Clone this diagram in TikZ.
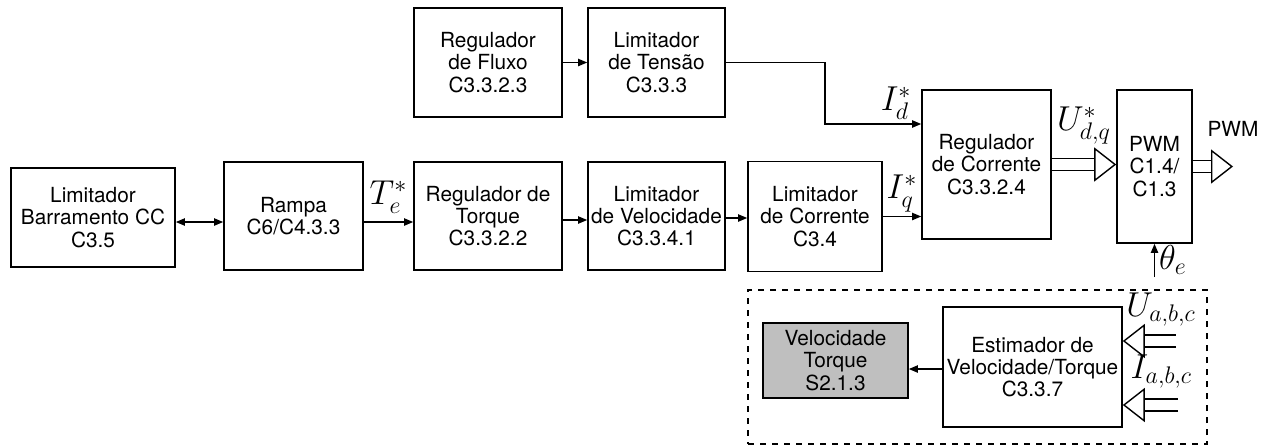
\documentclass[tikz,border=0pt]{standalone}
\usepackage{fontspec}
\setmainfont{TeX Gyre Heros}
\usetikzlibrary{arrows.meta,positioning,calc}
\definecolor{estgray}{RGB}{191,191,191}

\begin{document}
\begin{tikzpicture}[x=0.5pt,y=-0.5pt,
  ctrlblock/.style={draw,line width=0.8pt,align=center,inner sep=1pt,
    font=\fontsize{10.4pt}{11.2pt}\selectfont},
  ctrlarr/.style={-{Triangle[length=4.5pt,width=3.6pt]},line width=0.7pt},
  ctrlbus/.style={-{Triangle[open,length=11pt,width=17pt]},line width=0.7pt,
    double,double distance=5.2pt},
  ctrllbl/.style={inner sep=1pt,font=\fontsize{17pt}{19pt}\selectfont}
]
  \useasboundingbox (0,0) rectangle (1274,445);

  % Bottom row: torque path
  \node[ctrlblock,minimum width=82pt,minimum height=49.5pt] (limbar) at (93,217.5) {Limitador\\Barramento CC\\C3.5};
  \node[ctrlblock,minimum width=69.5pt,minimum height=54pt] (rampa) at (293.5,216) {Rampa\\C6/C4.3.3};
  \node[ctrlblock,minimum width=74pt,minimum height=54pt] (regtor) at (488,216) {Regulador de\\Torque\\C3.3.2.2};
  \node[ctrlblock,minimum width=68.5pt,minimum height=54pt] (limvel) at (656.5,216) {Limitador\\de Velocidade\\C3.3.4.1};
  \node[ctrlblock,minimum width=67pt,minimum height=55pt] (limcor) at (815,216.5) {Limitador\\de Corrente\\C3.4};

  % Top row: flux path
  \node[ctrlblock,minimum width=74pt,minimum height=54.5pt] (regflu) at (488,62.5) {Regulador\\de Fluxo\\C3.3.2.3};
  \node[ctrlblock,minimum width=68.5pt,minimum height=54.5pt] (limten) at (656.5,62.5) {Limitador\\de Tensão\\C3.3.3};

  % Current regulator and PWM
  \node[ctrlblock,minimum width=64.5pt,minimum height=74.5pt] (regcor) at (986.5,164.5) {Regulador\\de Corrente\\C3.3.2.4};
  \node[ctrlblock,minimum width=37.5pt,minimum height=76.5pt] (pwm) at (1154.5,166.5) {PWM\\C1.4/\\C1.3};

  % Estimator group
  \node[draw,dashed,line width=0.7pt,minimum width=229.5pt,minimum height=77pt] (estbox) at (977.5,367) {};
  \node[ctrlblock,fill=estgray,minimum width=72.5pt,minimum height=37.5pt] (velout) at (835.5,360.5) {Velocidade\\Torque\\S2.1.3};
  \node[ctrlblock,minimum width=89.5pt,minimum height=60pt] (estim) at (1032.5,367) {Estimador de\\Velocidade/Torque\\C3.3.7};

  % Free ends
  \coordinate (pwmout) at (1233,166.5);
  \coordinate (thetain) at (1154.5,277);
  \coordinate (uin) at (1176,341);
  \coordinate (iin) at (1178,405);

  % Arrows, bottom row
  \draw[{Triangle[length=4.5pt,width=3.6pt]}-{Triangle[length=4.5pt,width=3.6pt]},line width=0.7pt]
    ([yshift=-2.25pt]limbar.east) -- ([yshift=-3pt]rampa.west);
  \draw[ctrlarr] ([yshift=-3pt]rampa.east) -- ([yshift=-3pt]regtor.west)
    node[ctrllbl,midway,above=3pt] {$T_e^*$};
  \draw[ctrlarr] ([yshift=-2pt]regtor.east) -- ([yshift=-2pt]limvel.west);
  \draw[ctrlarr] ([yshift=-1pt]limvel.east) -- ([yshift=-0.75pt]limcor.west);
  \draw[ctrlarr] (limcor.east) -- (limcor.east -| regcor.west)
    node[ctrllbl,midway,above=1pt] {$I_q^*$};

  % Arrows, top row
  \draw[ctrlarr] (regflu.east) -- (limten.west);
  \draw[ctrlarr] (limten.east) -- ++(99,0) |- ([yshift=20.25pt]regcor.west)
    node[ctrllbl,pos=0.87,above=1pt] {$I_d^*$};

  % Voltage and PWM buses
  \draw[ctrlbus] (regcor.east) -- (regcor.east -| pwm.west)
    node[ctrllbl,midway,above=9pt] {$U_{d,q}^*$};
  \draw[ctrlbus] (pwm.east) -- (pwmout)
    node[pos=1,above=13.5pt,inner sep=1pt,font=\fontsize{10.4pt}{11.2pt}\selectfont] {PWM};
  \draw[ctrlarr] (thetain) -- (pwm.south)
    node[ctrllbl,midway,right=1pt] {$\theta_e$};

  % Estimator inputs and output
  \draw[ctrlbus] (uin) -- (uin -| estim.east)
    node[ctrllbl,pos=0.28,above=6pt] {$U_{a,b,c}$};
  \draw[ctrlbus] (iin) -- (iin -| estim.east)
    node[ctrllbl,pos=0.3,above=7pt] {$I_{a,b,c}$};
  \draw[ctrlarr] ([yshift=-1pt]estim.west) -- ([yshift=-4.25pt]velout.east);
\end{tikzpicture}
\end{document}
